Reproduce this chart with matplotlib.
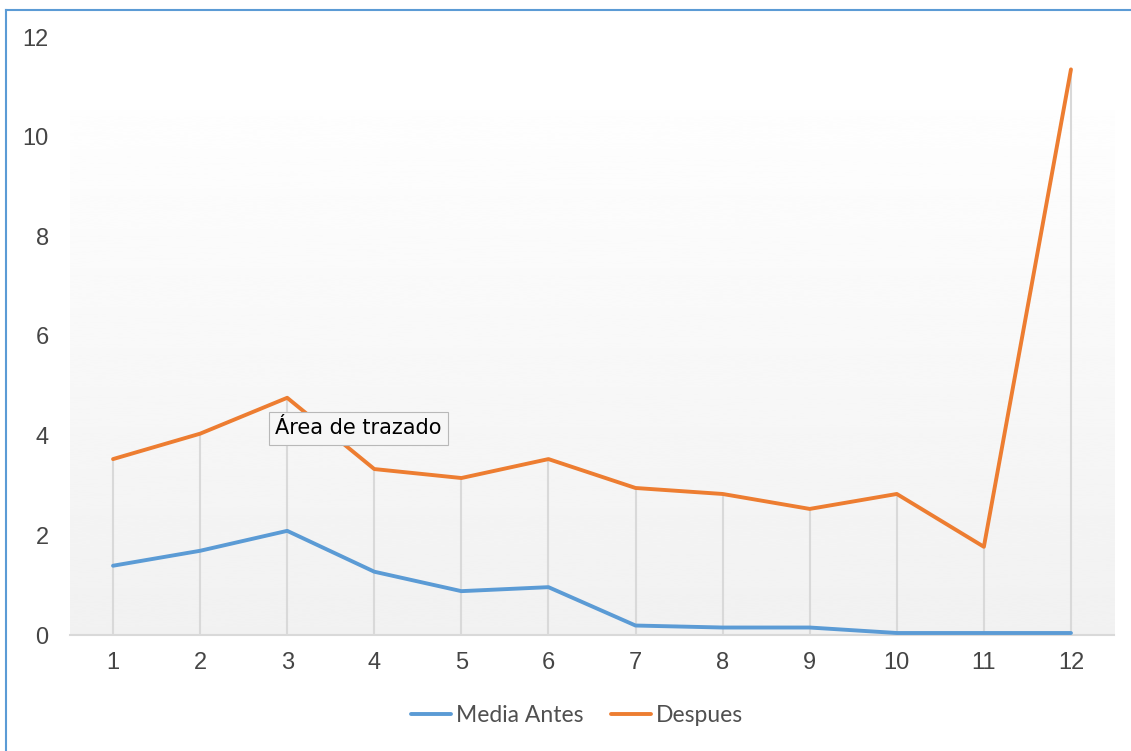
import numpy as np
import matplotlib
matplotlib.use("Agg")
import matplotlib.pyplot as plt
from matplotlib.lines import Line2D

categories = [1, 2, 3, 4, 5, 6, 7, 8, 9, 10, 11, 12]
media_antes = [1.39, 1.69, 2.09, 1.27, 0.88, 0.96, 0.19, 0.15, 0.15, 0.04, 0.04, 0.04]
despues = [3.53, 4.04, 4.76, 3.33, 3.15, 3.53, 2.95, 2.83, 2.53, 2.83, 1.77, 11.35]
y_ticks = [0, 2, 4, 6, 8, 10, 12]
series_names = ["Media Antes", "Despues"]

W, H = 1131, 751
fig = plt.figure(figsize=(W / 100, H / 100), dpi=100)
fig.patch.set_facecolor("white")

def fx(px):
    return px / W

def fy(py):
    return 1 - py / H

ax = fig.add_axes([fx(69.5), fy(635), fx(1114.5) - fx(69.5), fy(37) - fy(635)])
ax.set_xlim(0.5, 12.5)
ax.set_ylim(0, 12)
ax.patch.set_alpha(0)

# gradient plot area background
grad = np.linspace(0.945, 1.0, 256).reshape(-1, 1)
ax.imshow(grad, cmap="gray", vmin=0, vmax=1, origin="lower", aspect="auto",
          extent=(0.5, 12.5, 0, 11.3), zorder=0, interpolation="bicubic")

# drop lines
ax.vlines(categories, 0, [max(a, b) for a, b in zip(media_antes, despues)],
          colors="#d9d9d9", linewidth=1.5, zorder=1)

blue = "#5b9bd5"
orange = "#ed7d31"
ax.plot(categories, media_antes, color=blue, lw=2.8, label=series_names[0],
        solid_joinstyle="round", solid_capstyle="round", zorder=3)
ax.plot(categories, despues, color=orange, lw=2.8, label=series_names[1],
        solid_joinstyle="round", solid_capstyle="round", zorder=3)

for s in ["top", "right", "left"]:
    ax.spines[s].set_visible(False)
ax.spines["bottom"].set_color("#d9d9d9")
ax.spines["bottom"].set_linewidth(1.5)

ax.set_xticks(categories)
ax.set_xticklabels([str(c) for c in categories])
ax.set_yticks(y_ticks)
ax.set_yticklabels([str(t) for t in y_ticks])
ax.tick_params(axis="both", length=0, labelsize=17, labelcolor="#454545")
for lab in ax.get_xticklabels() + ax.get_yticklabels():
    lab.set_family(["Liberation Sans", "DejaVu Sans"])
ax.tick_params(axis="x", pad=12)
ax.tick_params(axis="y", pad=15)
ax.grid(False)

leg = fig.legend(loc="center", bbox_to_anchor=(fx(577), fy(716)), ncol=2,
                 frameon=False, handlelength=1.75,
                 handletextpad=0.2, columnspacing=1.2,
                 prop={"family": ["Lato", "DejaVu Sans"], "size": 16.5})
for t in leg.get_texts():
    t.set_color("#505050")

# tooltip
fig.text(fx(358.5), fy(428.5), "Área de trazado", ha="center", va="center",
         fontsize=15, color="black",
         bbox=dict(boxstyle="square,pad=0.3", facecolor="#f6f6f6",
                   edgecolor="#b8b8b8", linewidth=0.8))

# frame lines (left and top)
fig.add_artist(Line2D([fx(6), fx(6)], [fy(10), 0], transform=fig.transFigure,
                      color="#5b9bd5", lw=1.5))
fig.add_artist(Line2D([fx(6), 1], [fy(10), fy(10)], transform=fig.transFigure,
                      color="#5b9bd5", lw=1.5))

fig.savefig("out.png", dpi=100)
